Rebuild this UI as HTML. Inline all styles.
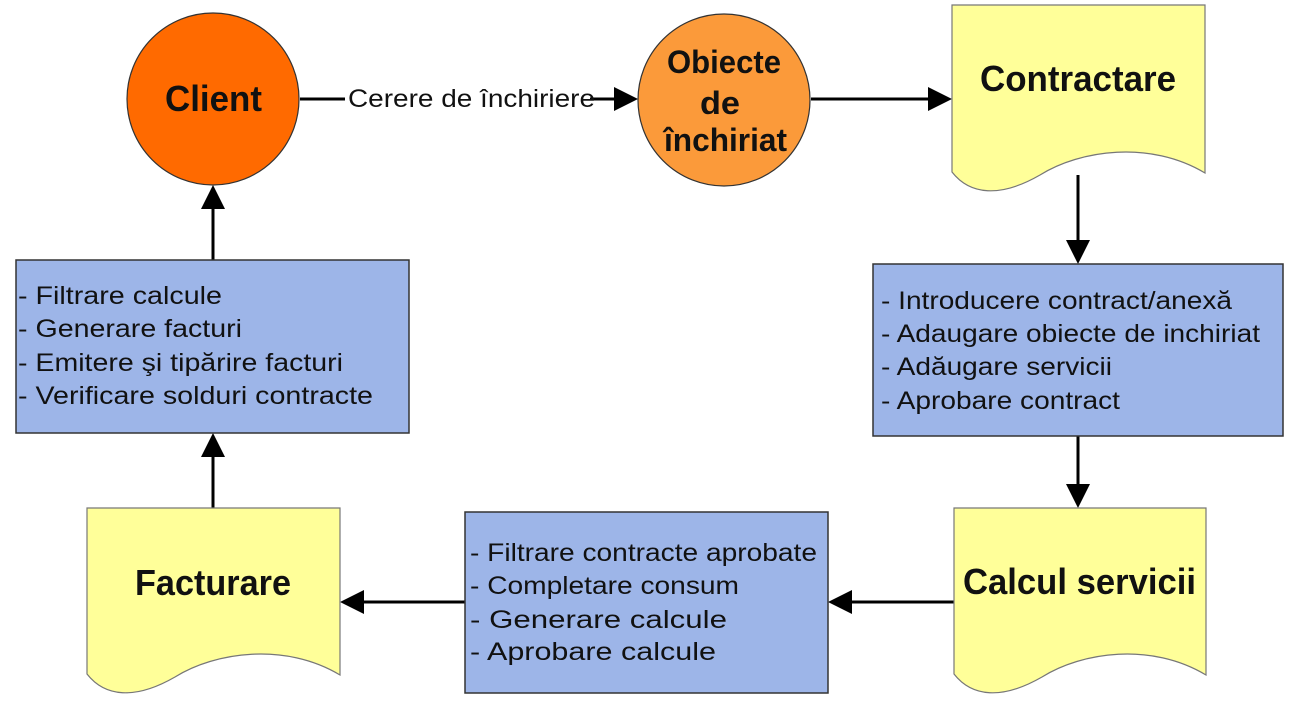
<!DOCTYPE html>
<html><head><meta charset="utf-8"><style>
html,body{margin:0;padding:0;background:#fff;}
svg{display:block;}
text{font-family:"Liberation Sans",Arial,sans-serif;fill:#111;}
.t{font-size:25px;}
.b{font-size:36px;font-weight:bold;}
</style></head><body>
<svg width="1299" height="718" viewBox="0 0 1299 718" xmlns="http://www.w3.org/2000/svg">
<g stroke="#000" stroke-width="3" fill="none">
<line x1="300" y1="99" x2="345" y2="99"/>
<line x1="590" y1="99" x2="615" y2="99"/>
<line x1="811" y1="99" x2="930" y2="99"/>
<line x1="1078" y1="175" x2="1078" y2="242"/>
<line x1="1078" y1="436" x2="1078" y2="486"/>
<line x1="954" y1="602" x2="850" y2="602"/>
<line x1="465" y1="602" x2="362" y2="602"/>
<line x1="213" y1="508" x2="213" y2="455"/>
<line x1="213" y1="260" x2="213" y2="207"/>
</g>
<g fill="#000">
<polygon points="638,99 614,87 614,111"/>
<polygon points="952,99 928,87 928,111"/>
<polygon points="1078,264 1066,240 1090,240"/>
<polygon points="1078,508 1066,484 1090,484"/>
<polygon points="828,602 852,590 852,614"/>
<polygon points="340,602 364,590 364,614"/>
<polygon points="213,433 201,457 225,457"/>
<polygon points="213,185 201,209 225,209"/>
</g>
<ellipse cx="213" cy="99" rx="86" ry="86" fill="#ff6a00" stroke="#333" stroke-width="1.2"/>
<ellipse cx="724" cy="100" rx="86" ry="86" fill="#fb9a3a" stroke="#333" stroke-width="1.2"/>
<path d="M952,5 H1205 V173 C1150,140 1080,150 1040,175 C1000,198 970,195 952,172 Z" fill="#ffff99" stroke="#777" stroke-width="1.2"/>
<path d="M87,508 H340 V675 C285,642 215,652 175,677 C135,700 105,697 87,674 Z" fill="#ffff99" stroke="#777" stroke-width="1.2"/>
<path d="M954,508 H1206 V675 C1151,642 1082,652 1042,677 C1002,700 972,697 954,674 Z" fill="#ffff99" stroke="#777" stroke-width="1.2"/>
<rect x="16" y="260" width="393" height="173" fill="#9db5e8" stroke="#333" stroke-width="1.5"/>
<rect x="873" y="264" width="410" height="172" fill="#9db5e8" stroke="#333" stroke-width="1.5"/>
<rect x="465" y="512" width="363" height="181" fill="#9db5e8" stroke="#333" stroke-width="1.5"/>
<text class="b" x="165" y="111" textLength="97" lengthAdjust="spacingAndGlyphs">Client</text>
<text class="t" x="348" y="107" textLength="247" lengthAdjust="spacingAndGlyphs">Cerere de închiriere</text>
<text class="b" style="font-size:32px" x="667" y="73" textLength="114" lengthAdjust="spacingAndGlyphs">Obiecte</text>
<text class="b" style="font-size:32px" x="700" y="114" textLength="40" lengthAdjust="spacingAndGlyphs">de</text>
<text class="b" style="font-size:32px" x="664" y="151" textLength="123" lengthAdjust="spacingAndGlyphs">închiriat</text>
<text class="b" x="980" y="91" textLength="196" lengthAdjust="spacingAndGlyphs">Contractare</text>
<text class="b" x="135" y="595" textLength="156" lengthAdjust="spacingAndGlyphs">Facturare</text>
<text class="b" x="963" y="594" textLength="233" lengthAdjust="spacingAndGlyphs">Calcul servicii</text>
<text class="t" x="18" y="304" textLength="204" lengthAdjust="spacingAndGlyphs">- Filtrare calcule</text>
<text class="t" x="18" y="337" textLength="224" lengthAdjust="spacingAndGlyphs">- Generare facturi</text>
<text class="t" x="18" y="371" textLength="325" lengthAdjust="spacingAndGlyphs">- Emitere şi tipărire facturi</text>
<text class="t" x="18" y="404" textLength="355" lengthAdjust="spacingAndGlyphs">- Verificare solduri contracte</text>
<text class="t" x="881" y="309" textLength="351" lengthAdjust="spacingAndGlyphs">- Introducere contract/anexă</text>
<text class="t" x="881" y="342" textLength="379" lengthAdjust="spacingAndGlyphs">- Adaugare obiecte de inchiriat</text>
<text class="t" x="881" y="375" textLength="231" lengthAdjust="spacingAndGlyphs">- Adăugare servicii</text>
<text class="t" x="881" y="409" textLength="239" lengthAdjust="spacingAndGlyphs">- Aprobare contract</text>
<text class="t" x="470" y="561" textLength="347" lengthAdjust="spacingAndGlyphs">- Filtrare contracte aprobate</text>
<text class="t" x="470" y="594" textLength="269" lengthAdjust="spacingAndGlyphs">- Completare consum</text>
<text class="t" x="470" y="628" textLength="257" lengthAdjust="spacingAndGlyphs">- Generare calcule</text>
<text class="t" x="470" y="660" textLength="246" lengthAdjust="spacingAndGlyphs">- Aprobare calcule</text>
</svg>
</body></html>
